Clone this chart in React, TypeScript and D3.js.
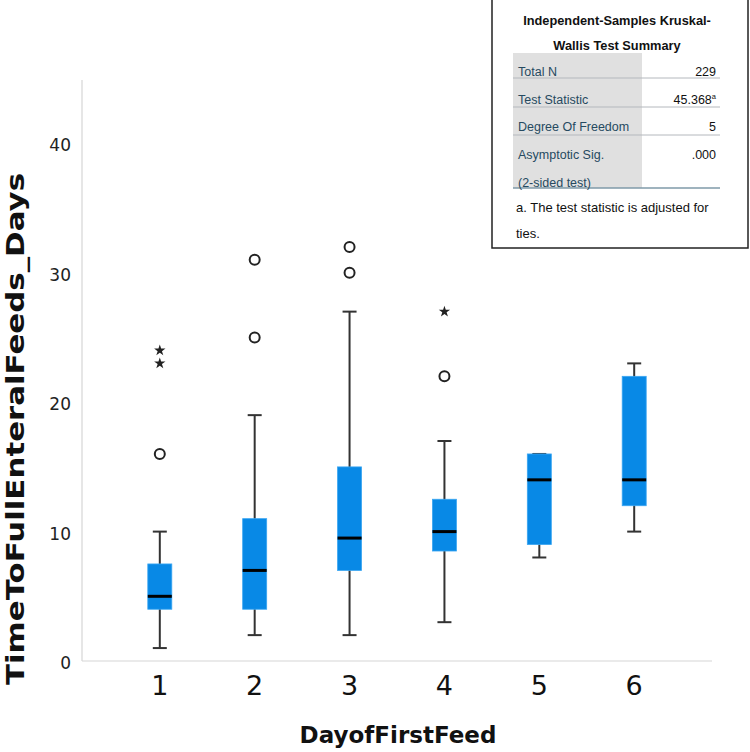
import type { FC } from "react";
import { useEffect, useRef } from "react";
import * as d3 from "d3";

// Box plot values
const days = ["1", "2", "3", "4", "5", "6"];
const whiskerLow = [1, 2, 2, 3, 8, 10];
const q1 = [4, 4, 7, 8.5, 9, 12];
const medians = [5, 7, 9.5, 10, 14, 14];
const q3 = [7.5, 11, 15, 12.5, 16, 22];
const whiskerHigh = [10, 19, 27, 17, 16, 23];
const circleOutliers: [string, number][] = [
  ["1", 16],
  ["2", 25],
  ["2", 31],
  ["3", 30],
  ["3", 32],
  ["4", 22],
];
const starOutliers: [string, number][] = [
  ["1", 23],
  ["1", 24],
  ["4", 27],
];
const yTicks = [0, 10, 20, 30, 40];

// Summary table
const tableTitle = ["Independent-Samples Kruskal-", "Wallis Test Summary"];
const tableLabels = ["Total N", "Test Statistic", "Degree Of Freedom", "Asymptotic Sig."];
const tableValues = ["229", "45.368", "5", ".000"];
const footnote = ["a. The test statistic is adjusted for", "ties."];

const App: FC = () => {
  const ref = useRef<SVGSVGElement | null>(null);

  useEffect(() => {
    if (!ref.current) return;
    const svg = d3.select(ref.current);
    svg.selectAll("*").remove();

    const width = 750;
    const height = 752;
    const plot = { left: 82, right: 712, top: 80, bottom: 661 };
    svg.attr("width", width).attr("height", height);

    const x = d3
      .scalePoint<string>()
      .domain(days)
      .range([plot.left, plot.right])
      .padding(0.82);
    const y = d3.scaleLinear().domain([0, 44.9]).range([plot.bottom, plot.top]);

    const font = "'DejaVu Sans', sans-serif";
    const boxW = 24;
    const capW = 14;

    // axes lines
    svg
      .append("line")
      .attr("x1", plot.left)
      .attr("x2", plot.left)
      .attr("y1", plot.top)
      .attr("y2", plot.bottom)
      .attr("stroke", "#d6d6d6")
      .attr("stroke-width", 1.2);
    svg
      .append("line")
      .attr("x1", plot.left)
      .attr("x2", plot.right)
      .attr("y1", plot.bottom)
      .attr("y2", plot.bottom)
      .attr("stroke", "#d6d6d6")
      .attr("stroke-width", 1.2);

    // y ticks
    svg
      .append("g")
      .selectAll("text")
      .data(yTicks)
      .join("text")
      .attr("x", 71)
      .attr("y", (d) => y(d) + 2)
      .attr("dy", "0.35em")
      .attr("text-anchor", "end")
      .attr("font-family", font)
      .attr("font-size", 17)
      .attr("fill", "#222")
      .text((d) => d);

    // x ticks
    svg
      .append("g")
      .selectAll("text")
      .data(days)
      .join("text")
      .attr("x", (d) => x(d)!)
      .attr("y", 695)
      .attr("text-anchor", "middle")
      .attr("font-family", font)
      .attr("font-size", 27)
      .attr("fill", "#111")
      .text((d) => d);

    // axis titles
    svg
      .append("text")
      .attr("x", 398)
      .attr("y", 743)
      .attr("text-anchor", "middle")
      .attr("font-family", font)
      .attr("font-weight", "bold")
      .attr("font-size", 23)
      .attr("fill", "#111")
      .text("DayofFirstFeed");
    svg
      .append("text")
      .attr("transform", `translate(24,429) rotate(-90)`)
      .attr("text-anchor", "middle")
      .attr("font-family", font)
      .attr("font-weight", "bold")
      .attr("font-size", 25)
      .attr("textLength", 512)
      .attr("lengthAdjust", "spacingAndGlyphs")
      .attr("fill", "#111")
      .text("TimeToFullEnteralFeeds_Days");

    // boxes
    const g = svg.append("g");
    days.forEach((d, i) => {
      const cx = x(d)!;
      const stroke = "#333";
      g.append("line")
        .attr("x1", cx)
        .attr("x2", cx)
        .attr("y1", y(whiskerLow[i]))
        .attr("y2", y(whiskerHigh[i]))
        .attr("stroke", stroke)
        .attr("stroke-width", 2);
      [whiskerLow[i], whiskerHigh[i]].forEach((v) => {
        g.append("line")
          .attr("x1", cx - capW / 2)
          .attr("x2", cx + capW / 2)
          .attr("y1", y(v))
          .attr("y2", y(v))
          .attr("stroke", stroke)
          .attr("stroke-width", 2);
      });
      g.append("rect")
        .attr("x", cx - boxW / 2)
        .attr("y", y(q3[i]))
        .attr("width", boxW)
        .attr("height", y(q1[i]) - y(q3[i]))
        .attr("fill", "#0889e6")
        .attr("stroke", "#3aa6f2")
        .attr("stroke-width", 0.8);
      g.append("line")
        .attr("x1", cx - boxW / 2)
        .attr("x2", cx + boxW / 2)
        .attr("y1", y(medians[i]))
        .attr("y2", y(medians[i]))
        .attr("stroke", "#000")
        .attr("stroke-width", 3);
    });

    // outliers
    g.selectAll("circle.out")
      .data(circleOutliers)
      .join("circle")
      .attr("class", "out")
      .attr("cx", (d) => x(d[0])!)
      .attr("cy", (d) => y(d[1]))
      .attr("r", 5)
      .attr("fill", "#fff")
      .attr("stroke", "#222")
      .attr("stroke-width", 2);
    const star = d3.symbol().type(d3.symbolStar).size(40);
    g.selectAll("path.star")
      .data(starOutliers)
      .join("path")
      .attr("class", "star")
      .attr("transform", (d) => `translate(${x(d[0])},${y(d[1])})`)
      .attr("d", star)
      .attr("fill", "#222");

    // summary table
    const t = svg.append("g");
    const tf = "'Liberation Sans', Arial, sans-serif";
    t.append("rect")
      .attr("x", 492)
      .attr("y", -1)
      .attr("width", 256)
      .attr("height", 249)
      .attr("fill", "#fff")
      .attr("stroke", "#222")
      .attr("stroke-width", 1.5);
    t.selectAll("text.title")
      .data(tableTitle)
      .join("text")
      .attr("class", "title")
      .attr("x", 617)
      .attr("y", (_, i) => 25 + i * 25)
      .attr("text-anchor", "middle")
      .attr("font-family", tf)
      .attr("font-weight", "bold")
      .attr("font-size", 12.8)
      .attr("fill", "#111")
      .text((d) => d);
    t.append("rect")
      .attr("x", 513)
      .attr("y", 53)
      .attr("width", 129)
      .attr("height", 135)
      .attr("fill", "#e0e0e0");
    const rowY = [71, 99, 126, 154];
    const lineY = [78, 107, 135];
    lineY.forEach((ly) => {
      t.append("line")
        .attr("x1", 513)
        .attr("x2", 720)
        .attr("y1", ly)
        .attr("y2", ly)
        .attr("stroke", "#b4b8bd")
        .attr("stroke-width", 1);
    });
    t.append("line")
      .attr("x1", 513)
      .attr("x2", 720)
      .attr("y1", 188)
      .attr("y2", 188)
      .attr("stroke", "#7f9aa8")
      .attr("stroke-width", 1.5);
    t.selectAll("text.label")
      .data(tableLabels)
      .join("text")
      .attr("class", "label")
      .attr("x", 518)
      .attr("y", (_, i) => rowY[i] + 5)
      .attr("font-family", tf)
      .attr("font-size", 12.5)
      .attr("fill", "#264a60")
      .text((d) => d);
    t.append("text")
      .attr("x", 518)
      .attr("y", 187)
      .attr("font-family", tf)
      .attr("font-size", 12.5)
      .attr("fill", "#264a60")
      .text("(2-sided test)");
    const vals = t
      .selectAll("text.value")
      .data(tableValues)
      .join("text")
      .attr("class", "value")
      .attr("x", 716)
      .attr("y", (_, i) => rowY[i] + 5)
      .attr("text-anchor", "end")
      .attr("font-family", tf)
      .attr("font-size", 12.5)
      .attr("fill", "#111")
      .text((d) => d);
    vals
      .filter((_, i) => i === 1)
      .append("tspan")
      .attr("dy", -5)
      .attr("font-size", 7.5)
      .text("a");
    t.selectAll("text.foot")
      .data(footnote)
      .join("text")
      .attr("class", "foot")
      .attr("x", 516)
      .attr("y", (_, i) => 212 + i * 26)
      .attr("font-family", tf)
      .attr("font-size", 13)
      .attr("fill", "#111")
      .text((d) => d);
  }, []);

  return (
    <div style={{ position: "absolute", left: 0, top: 0, background: "#fff" }}>
      <svg ref={ref} style={{ display: "block" }}></svg>
    </div>
  );
};

export default App;
